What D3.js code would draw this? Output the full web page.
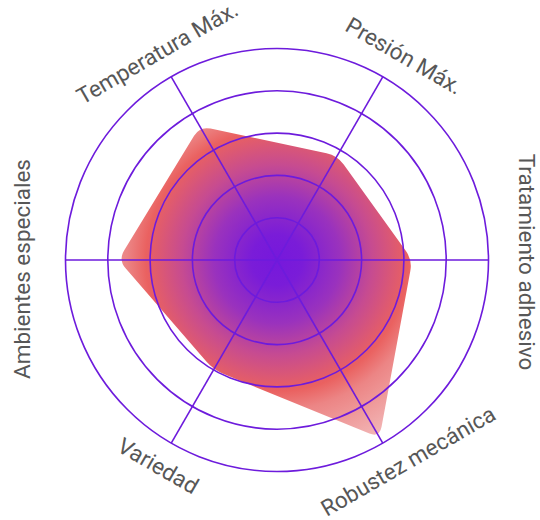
<!DOCTYPE html>
<html>
<head>
<meta charset="utf-8">
<script src="https://cdn.jsdelivr.net/npm/d3@7"></script>
<style>
  html, body { margin: 0; padding: 0; background: #fff; }
  .label { font-family: Roboto, "Noto Sans", sans-serif; font-size: 22.5px; fill: #575757; }
</style>
</head>
<body>
<div class="radar-chart"></div>
<script>
  var axes = ["Temperatura Máx.", "Presión Máx.", "Tratamiento adhesivo",
              "Robustez mecánica", "Variedad", "Ambientes especiales"];
  var values = [3.65, 2.85, 3.2, 4.85, 3.0, 3.75];
  var levels = [1, 2, 3, 4, 5];

  var w = 540, h = 520;
  var cx = 277, cy = 260, outer = 211.5;
  var lineColor = "#6d1bdc";
  // label placement: gap outside the outer ring, and slide along the reading direction
  var labelGap = [28, 29, 38, 28, 26, 44];
  var labelSlide = [0, 8, 2, 13, 0, -9];

  var svg = d3.select(".radar-chart").append("svg")
    .attr("width", w)
    .attr("height", h)
    .append("g")
    .attr("transform", "translate(" + cx + "," + cy + ")");

  var r = d3.scaleLinear().domain([0, 5]).range([0, outer]);
  // first axis sits at -120deg, going clockwise
  var angle = d3.scaleLinear().domain([0, axes.length]).range([-2 * Math.PI / 3, 4 * Math.PI / 3]);

  function pt(i, v) {
    var a = angle(i);
    return [r(v) * Math.cos(a), r(v) * Math.sin(a)];
  }

  var defs = svg.append("defs");
  var grad = defs.append("radialGradient")
    .attr("id", "fillGrad")
    .attr("gradientUnits", "userSpaceOnUse")
    .attr("cx", 0).attr("cy", 0).attr("r", outer);
  [[0, "#7618dc"], [0.12, "#7a1cd8"], [0.3, "#9a32bd"], [0.45, "#c64b91"],
   [0.62, "#ea6160"], [0.71, "#ec8585"], [0.95, "#f2b5b5"]].forEach(function (s) {
    grad.append("stop").attr("offset", s[0]).attr("stop-color", s[1]);
  });

  // polygon with slightly rounded corners
  var pts = values.map(function (v, i) { return pt(i, v); });
  var cut = 11;
  function towards(a, b, d) {
    var dx = b[0] - a[0], dy = b[1] - a[1], L = Math.sqrt(dx * dx + dy * dy);
    return [a[0] + dx / L * d, a[1] + dy / L * d];
  }
  var path = d3.path();
  pts.forEach(function (p, i) {
    var prev = pts[(i + pts.length - 1) % pts.length];
    var next = pts[(i + 1) % pts.length];
    var p1 = towards(p, prev, cut), p2 = towards(p, next, cut);
    if (i === 0) path.moveTo(p1[0], p1[1]); else path.lineTo(p1[0], p1[1]);
    path.quadraticCurveTo(p[0], p[1], p2[0], p2[1]);
  });
  path.closePath();

  svg.append("path")
    .attr("class", "area")
    .attr("d", path.toString())
    .style("fill", "url(#fillGrad)");

  svg.append("g").selectAll("circle")
    .data(levels)
    .enter().append("circle")
    .attr("r", function (d) { return r(d); })
    .style("fill", "none")
    .style("stroke", lineColor)
    .style("stroke-width", 1.6);

  svg.append("g").selectAll("line")
    .data(axes)
    .enter().append("line")
    .attr("x1", 0).attr("y1", 0)
    .attr("x2", function (d, i) { return pt(i, 5)[0]; })
    .attr("y2", function (d, i) { return pt(i, 5)[1]; })
    .style("stroke", lineColor)
    .style("stroke-width", 1.6);

  svg.append("g").selectAll("text")
    .data(axes)
    .enter().append("text")
    .attr("class", "label")
    .attr("text-anchor", "middle")
    .attr("dominant-baseline", "central")
    .attr("x", function (d, i) { return labelSlide[i]; })
    .attr("transform", function (d, i) {
      var a = angle(i);
      var rr = outer + labelGap[i];
      var deg = a * 180 / Math.PI + 90;
      if (deg > 90 && deg < 270) deg -= 180;
      return "translate(" + rr * Math.cos(a) + "," + rr * Math.sin(a) + ") rotate(" + deg + ")";
    })
    .text(function (d) { return d; });
</script>
</body>
</html>
